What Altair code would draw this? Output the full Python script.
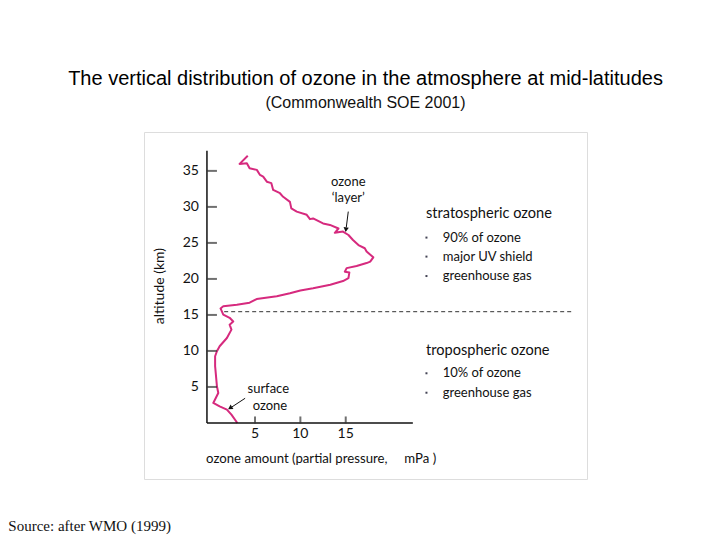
import altair as alt
import pandas as pd

# ozone profile (altitude km, partial pressure mPa) top to bottom
altitude = [37.1, 35.97, 36.07, 35.37, 35.14, 34.44, 34.2, 33.5, 33.3, 32.36, 31.9, 31.4,
            30.7, 29.8, 29.35, 28.9, 28.3, 28.4, 27.7, 27.5, 27.0, 26.4, 26.57, 26.1, 25.4,
            24.7, 24.26, 23.8, 23.0, 22.4, 22.2, 21.8, 21.5, 21.0, 20.9, 20.1, 19.7, 19.2,
            18.7, 18.4, 18.0, 17.6, 17.2, 16.7, 16.4, 16.2, 15.9, 15.05, 14.6, 14.1, 13.65,
            12.96, 11.8, 10.65, 9.96, 9.26, 7.9, 6.5, 5.1, 4.17, 2.78, 2.3, 1.85, 1.15, 0.0]
ozone = [4.2, 3.3, 4.1, 4.4, 5.2, 5.55, 5.9, 6.3, 6.8, 7.0, 7.75, 8.1,
         8.85, 9.0, 9.6, 10.7, 11.06, 11.4, 12.5, 13.26, 14.2, 13.8, 14.7, 15.3, 15.8,
         16.4, 17.1, 17.3, 18.04, 17.7, 17.3, 16.2, 15.1, 14.9, 15.4, 15.3, 14.7, 13.3,
         11.4, 10.0, 8.85, 7.4, 5.18, 4.4, 3.0, 1.5, 1.2, 1.5, 2.2, 2.6, 2.2,
         2.4, 1.9, 1.1, 0.8, 0.6, 0.6, 0.7, 0.8, 0.95, 0.4, 1.1, 1.9, 2.4, 3.05]

y_ticks = [5, 10, 15, 20, 25, 30, 35]
x_ticks = [5, 10, 15]
tropopause_km = 15.45

title = "The vertical distribution of ozone in the atmosphere at mid-latitudes"
subtitle = "(Commonwealth SOE 2001)"
source_note = "Source: after WMO (1999)"
x_title = "ozone amount (partial pressure,\u00a0\u00a0\u00a0\u00a0 mPa )"
y_title = "altitude (km)"

strato_head = "stratospheric ozone"
strato_items = ["90% of ozone", "major UV shield", "greenhouse gas"]
tropo_head = "tropospheric ozone"
tropo_items = ["10% of ozone", "greenhouse gas"]

# layout in data units
X_DOM = [-7.24, 41.6]
Y_DOM = [-7.78, 40.4]
AX_X0 = -0.3
AX_XMAX = 22.4
AX_YMAX = 37.8

FONT = "Lato"
MAGENTA = "#d62a7e"

xs = alt.Scale(domain=X_DOM, nice=False, zero=False)
ys = alt.Scale(domain=Y_DOM, nice=False, zero=False)


def X(field="x"):
    return alt.X(f"{field}:Q", scale=xs, axis=None)


def Y(field="y"):
    return alt.Y(f"{field}:Q", scale=ys, axis=None)


profile = pd.DataFrame({"x": ozone, "y": altitude, "i": range(len(ozone))})
line = alt.Chart(profile).mark_line(color=MAGENTA, strokeWidth=2, strokeJoin="round").encode(
    x=X(), y=Y(), order="i:Q")

# axes drawn by hand so they stop where the original stops
axes_df = pd.DataFrame({"x": [AX_X0, AX_X0], "x2": [AX_X0, AX_XMAX],
                        "y": [0, 0], "y2": [AX_YMAX, 0]})
axes = alt.Chart(axes_df).mark_rule(color="#111", strokeWidth=1.5).encode(
    x=X(), x2="x2:Q", y=Y(), y2="y2:Q")

yt = pd.DataFrame({"x": [AX_X0] * len(y_ticks), "y": y_ticks, "t": [str(v) for v in y_ticks]})
ytick_marks = alt.Chart(yt).mark_tick(orient="horizontal", size=10, thickness=2,
                                      color="#333", xOffset=5).encode(x=X(), y=Y())
ytick_labels = alt.Chart(yt).mark_text(font=FONT, fontSize=14, align="right", baseline="middle",
                                       color="#111", dx=-8).encode(x=X(), y=Y(), text="t:N")

xt = pd.DataFrame({"x": x_ticks, "y": [0] * len(x_ticks), "t": [str(v) for v in x_ticks]})
xtick_marks = alt.Chart(xt).mark_tick(orient="vertical", size=7, thickness=2,
                                      color="#333", yOffset=-3).encode(x=X(), y=Y())
xtick_labels = alt.Chart(xt).mark_text(font=FONT, fontSize=14, align="center", baseline="top",
                                       color="#111", dy=4).encode(x=X(), y=Y(), text="t:N")

dash_df = pd.DataFrame({"x": [1.6], "x2": [39.9], "y": [tropopause_km]})
dashed = alt.Chart(dash_df).mark_rule(color="#333", strokeWidth=1, strokeDash=[4, 3]).encode(
    x=X(), x2="x2:Q", y=Y())

x_title_df = pd.DataFrame({"x": [-0.4], "y": [-5.0], "t": [x_title]})
x_title_m = alt.Chart(x_title_df).mark_text(font=FONT, fontSize=13.2, align="left",
                                            baseline="middle", color="#111").encode(
    x=X(), y=Y(), text="t:N")
y_title_df = pd.DataFrame({"x": [-5.5], "y": [19.0], "t": [y_title]})
y_title_m = alt.Chart(y_title_df).mark_text(font=FONT, fontSize=14, align="center",
                                            baseline="middle", angle=270, color="#111").encode(
    x=X(), y=Y(), text="t:N")

# annotations with arrows
ann_df = pd.DataFrame({"x": [15.28, 15.28, 6.46, 6.65], "y": [33.5, 31.2, 4.68, 2.36],
                       "t": ["ozone", "\u2018layer\u2019", "surface", "ozone"]})
ann = alt.Chart(ann_df).mark_text(font=FONT, fontSize=13, align="center", baseline="middle",
                                  color="#111").encode(x=X(), y=Y(), text="t:N")
arrow_df = pd.DataFrame({"x": [15.28, 3.91], "x2": [15.06, 2.45],
                         "y": [29.35, 3.43], "y2": [27.15, 2.22]})
arrow_lines = alt.Chart(arrow_df).mark_rule(color="#111", strokeWidth=1).encode(
    x=X(), x2="x2:Q", y=Y(), y2="y2:Q")
head_df = pd.DataFrame({"x": [15.03, 2.32], "y": [26.95, 2.13], "a": [187.5, 237.0]})
heads = alt.Chart(head_df).mark_point(shape="triangle", filled=True, color="#111", size=28,
                                      opacity=1).encode(x=X(), y=Y(), angle=alt.Angle("a:Q", scale=None))

# side notes
heads_df = pd.DataFrame({"x": [23.85, 23.85], "y": [28.95, 10.04], "t": [strato_head, tropo_head]})
head_text = alt.Chart(heads_df).mark_text(font=FONT, fontSize=14.6, align="left", baseline="middle",
                                          color="#111").encode(x=X(), y=Y(), text="t:N")
items_df = pd.DataFrame({"x": [25.7] * 5,
                         "y": [25.74, 23.1, 20.4, 6.9, 4.2],
                         "t": strato_items + tropo_items})
item_text = alt.Chart(items_df).mark_text(font=FONT, fontSize=13, align="left", baseline="middle",
                                          color="#111").encode(x=X(), y=Y(), text="t:N")
bullets_df = pd.DataFrame({"x": [23.9] * 5, "y": [25.74, 23.1, 20.4, 6.9, 4.2]})
bullets = alt.Chart(bullets_df).mark_square(size=4, color="#445", opacity=1).encode(x=X(), y=Y())

src_df = pd.DataFrame({"x": [-22.2], "y": [-15.0], "t": [source_note]})
src = alt.Chart(src_df).mark_text(font="Liberation Serif", fontSize=15, align="left",
                                  baseline="alphabetic", color="#111").encode(
    x=X(), y=Y(), text="t:N")

chart = alt.layer(
    dashed, line, axes, ytick_marks, xtick_marks, ytick_labels, xtick_labels,
    x_title_m, y_title_m, ann, arrow_lines, heads, head_text, item_text, bullets, src
).properties(
    width=443, height=347,
    title=alt.TitleParams(title, subtitle=subtitle, anchor="middle", frame="group",
                          font="Liberation Sans", fontSize=20, fontWeight="normal",
                          subtitleFont="Liberation Sans", subtitleFontSize=16,
                          color="#000", subtitleColor="#111", offset=21, subtitlePadding=6),
    padding={"left": 136, "top": 124, "right": 125, "bottom": 58},
    autosize=alt.AutoSizeParams(type="none"),
).configure_view(stroke="#5a5a5a", strokeWidth=2).configure(background="white")

chart.save("out.html", embed_options={"renderer": "svg", "actions": False})
